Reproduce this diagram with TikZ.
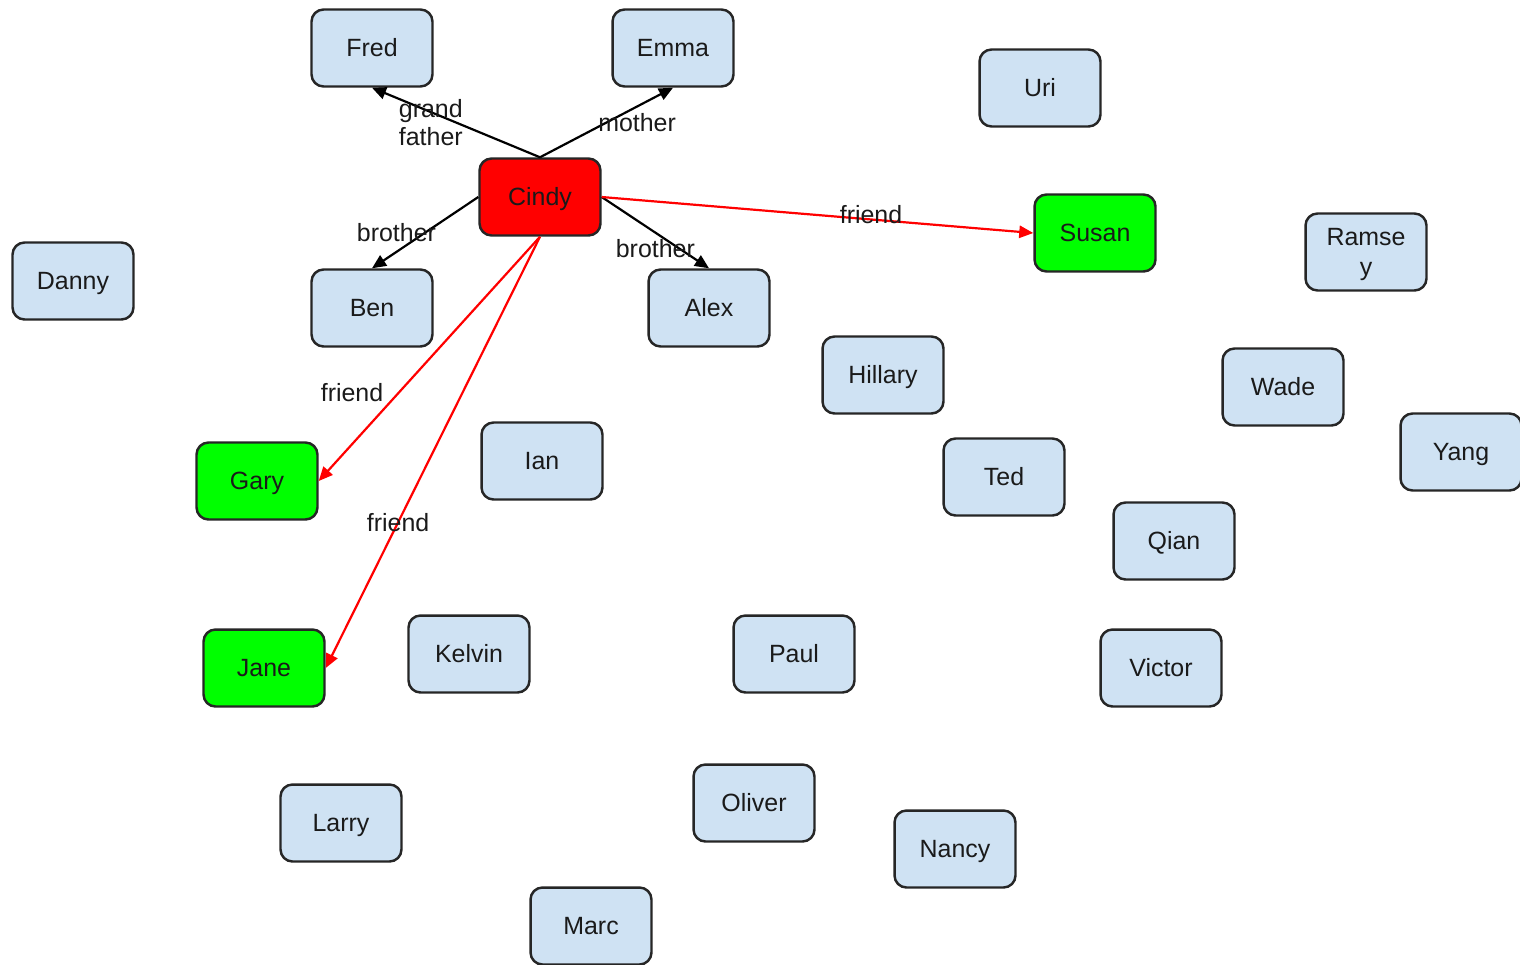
\documentclass[tikz,border=0pt]{standalone}
\usepackage{fontspec}
\setmainfont{Liberation Sans}
\usetikzlibrary{arrows.meta}
\definecolor{boxblue}{HTML}{CFE2F3}
\definecolor{boxred}{HTML}{FF0000}
\definecolor{boxgreen}{HTML}{00FF00}
\definecolor{txt}{HTML}{1A1A1A}
\tikzset{
  personbase/.style={draw=black!85, line width=1.4pt, rounded corners=0.24cm, fill=boxblue,
    minimum width=2.42cm, minimum height=1.54cm, inner sep=1pt, align=center,
    font=\fontsize{14.2}{17}\selectfont, text=txt},
  person/.style={personbase, text height=12.8pt, text depth=3pt},
  focus/.style={person, fill=boxred},
  friendbox/.style={person, fill=boxgreen},
  rel/.style={line width=1.25pt, black, -{Triangle[length=8pt,width=7pt]}},
  frel/.style={line width=1.25pt, boxred, -{Triangle[length=8pt,width=7pt]}},
  lbl/.style={font=\fontsize{14.2}{16}\selectfont, text=txt, inner sep=0pt, align=left}
}
\begin{document}
\begin{tikzpicture}[x=0.02cm, y=-0.02cm]
\useasboundingbox (0,0) rectangle (1520,964);
\clip (0,0) rectangle (1520,964);
\fill[white] (0,0) rectangle (1520,964);
\node[person] (fred) at (372,48) {Fred};
\node[person] (emma) at (673,48) {Emma};
\node[person] (uri) at (1040,88) {Uri};
\node[focus] (cindy) at (540,197) {Cindy};
\node[friendbox] (susan) at (1095,233) {Susan};
\node[personbase, text depth=0pt] (ramsey) at (1366,252) {Ramse\\y};
\node[person] (danny) at (73,281) {Danny};
\node[person] (ben) at (372,308) {Ben};
\node[person] (alex) at (709,308) {Alex};
\node[person] (hillary) at (883,375) {Hillary};
\node[person] (wade) at (1283,387) {Wade};
\node[person] (yang) at (1461,452) {Yang};
\node[person] (ian) at (542,461) {Ian};
\node[friendbox] (gary) at (257,481) {Gary};
\node[person] (ted) at (1004,477) {Ted};
\node[person] (qian) at (1174,541) {Qian};
\node[friendbox] (jane) at (264,668) {Jane};
\node[person] (kelvin) at (469,654) {Kelvin};
\node[person] (paul) at (794,654) {Paul};
\node[person] (victor) at (1161,668) {Victor};
\node[person] (larry) at (341,823) {Larry};
\node[person] (oliver) at (754,803) {Oliver};
\node[person] (nancy) at (955,849) {Nancy};
\node[person] (marc) at (591,926) {Marc};

\draw[rel] (cindy.north) -- (fred.south) node[lbl, pos=0.65, yshift=-6pt] (lgf) {grand\\father};
\draw[rel] (cindy.north) -- (emma.south) node[lbl, pos=0.73, yshift=-9pt] (lmo) {mother};
\draw[rel] (cindy.west) -- (ben.north) node[lbl, pos=0.77, yshift=11pt] (lb1) {brother};
\draw[rel] (cindy.east) -- (alex.north) node[lbl, pos=0.5, yshift=-9pt] (lb2) {brother};
\draw[frel] (cindy.east) -- (susan.west) node[lbl, pos=0.624, yshift=2.5pt] (lf1) {friend};
\draw[frel] (cindy.south) -- (gary.east) node[lbl, pos=0.64, anchor=east, xshift=-8pt] (lf2) {friend};
\draw[frel] (cindy.south) -- (jane.east) node[lbl, pos=0.662] (lf3) {friend};
\end{tikzpicture}
\end{document}
